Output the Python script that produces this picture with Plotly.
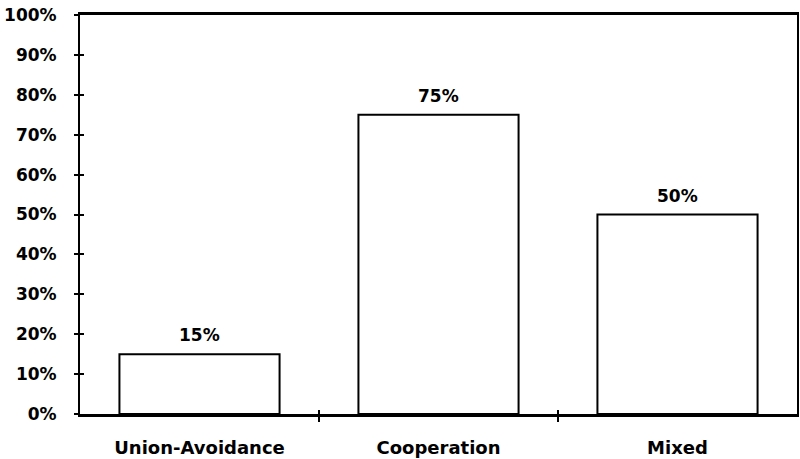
import plotly.graph_objects as go

categories = ["Union-Avoidance", "Cooperation", "Mixed"]
values = [15, 75, 50]
y_ticks = [0, 10, 20, 30, 40, 50, 60, 70, 80, 90, 100]
value_labels = ["15%", "75%", "50%"]

FONT = "DejaVu Sans"
xpos = list(range(len(categories)))
boundaries = [i + 0.5 for i in xpos[:-1]]

fig = go.Figure()
fig.add_trace(go.Bar(
    x=xpos, y=values, width=0.67,
    marker=dict(color="white", line=dict(color="black", width=2)),
    hoverinfo="skip", showlegend=False,
))
# invisible trace to realise the overlay axes carrying the inward half of the ticks
fig.add_trace(go.Scatter(
    x=xpos, y=values, xaxis="x2", yaxis="y2", mode="markers",
    marker=dict(opacity=0), hoverinfo="skip", showlegend=False,
))

for xi, v, t in zip(xpos, values, value_labels):
    fig.add_annotation(
        x=xi, y=v, text=t, showarrow=False, yanchor="bottom", yshift=7,
        font=dict(family=FONT, size=17, color="black", weight="bold"),
    )

xr = [-0.5, len(categories) - 0.5]
yr = [0, 100]

fig.update_layout(
    width=800, height=459,
    margin=dict(l=80, r=3, t=15, b=45, autoexpand=False),
    paper_bgcolor="white", plot_bgcolor="white",
    font=dict(family=FONT, color="black"),
    xaxis=dict(
        range=xr, tickmode="array", tickvals=xpos, ticktext=categories,
        ticks="", showgrid=False, zeroline=False, automargin=False,
        showline=True, linecolor="black", linewidth=2.5, mirror=True,
        tickfont=dict(family=FONT, size=18, color="black", weight="bold"),
        ticklabelstandoff=16,
        minor=dict(tickmode="array", tickvals=boundaries, ticks="outside",
                   ticklen=5, tickwidth=2, tickcolor="black", showgrid=False),
    ),
    yaxis=dict(
        range=yr, tickmode="array", tickvals=y_ticks,
        ticktext=[f"{t}%" for t in y_ticks],
        ticks="outside", ticklen=4, tickwidth=2, tickcolor="black",
        showgrid=False, zeroline=False, automargin=False,
        showline=True, linecolor="black", linewidth=2, mirror=True,
        tickfont=dict(family=FONT, size=17, color="black", weight="bold"),
        ticklabelstandoff=14,
    ),
    xaxis2=dict(
        range=xr, overlaying="x", anchor="y2", tickmode="array",
        tickvals=boundaries, ticks="inside", ticklen=4, tickwidth=2,
        tickcolor="black", showticklabels=False, showgrid=False,
        zeroline=False, showline=False, automargin=False,
    ),
    yaxis2=dict(
        range=yr, overlaying="y", anchor="x2", side="left", tickmode="array",
        tickvals=y_ticks, ticks="inside", ticklen=4, tickwidth=2,
        tickcolor="black", showticklabels=False, showgrid=False,
        zeroline=False, showline=False, automargin=False,
    ),
)

fig.write_html(
    "out.html",
    config={"displayModeBar": False},
    post_script="document.body.style.margin='0';document.body.style.padding='0';",
)
